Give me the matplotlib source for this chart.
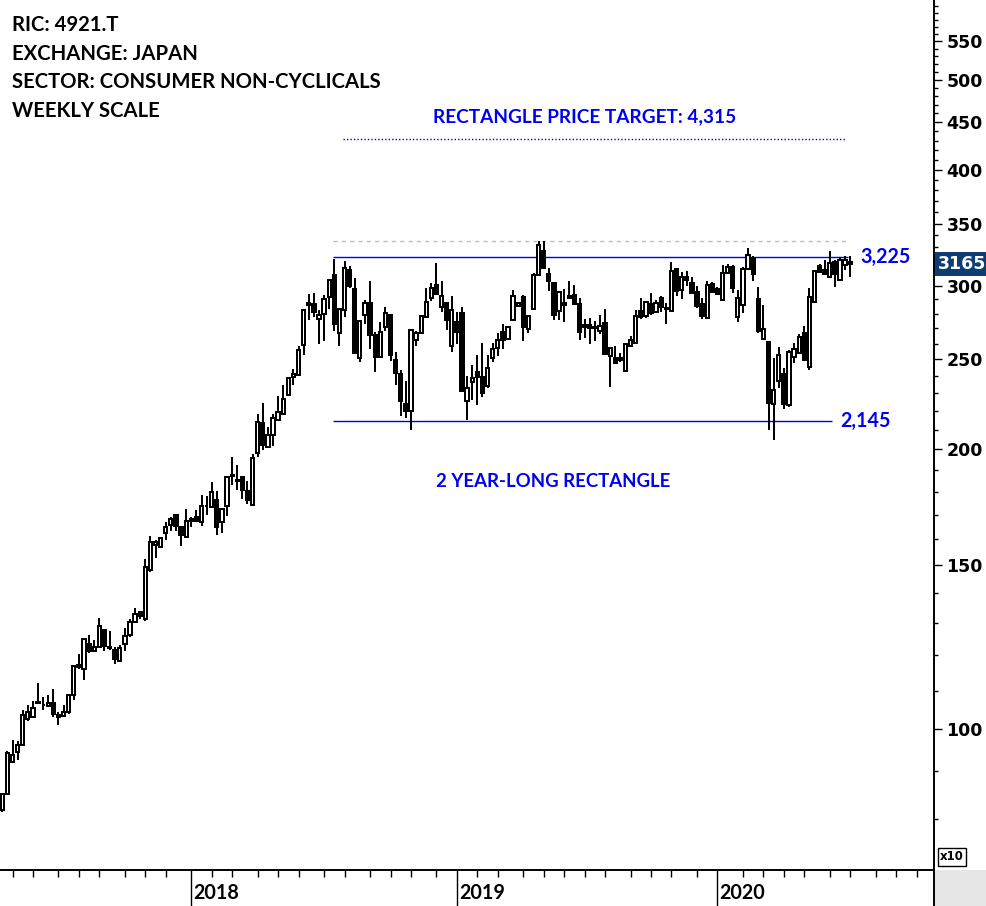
import matplotlib
matplotlib.use('Agg')
import matplotlib.pyplot as plt
import matplotlib.transforms as mtransforms
from matplotlib.patches import Rectangle
from matplotlib.lines import Line2D
from matplotlib.ticker import FixedLocator, NullFormatter
import numpy as np
import pandas as pd

# weekly candles, prices shown in units of x10 (as on the chart axis)
opens = [81.8, 85.1, 92.2, 94.5, 96.1, 102.5, 103.0, 107.0, 106.1, 105.9,
         106.7, 103.5, 103.3, 104.3, 108.8, 117.2, 116.0, 123.4, 121.3, 122.5,
         127.8, 122.5, 121.6, 118.3, 123.4, 126.2, 130.4, 133.6, 131.3, 148.3,
         157.8, 157.0, 162.6, 165.8, 170.0, 165.0, 160.9, 168.3, 169.1, 167.0,
         173.6, 173.4, 176.4, 167.0, 173.8, 187.0, 185.4, 186.8, 180.4, 174.3,
         198.2, 213.5, 201.2, 207.3, 215.1, 218.3, 228.9, 239.3, 240.5, 259.1,
         286.0, 286.7, 276.3, 279.8, 291.8, 308.1, 266.8, 282.5, 312.0, 297.6,
         250.8, 279.1, 287.4, 265.5, 251.5, 270.9, 279.1, 249.5, 241.1, 223.7,
         219.9, 262.3, 266.8, 277.7, 291.1, 300.9, 284.6, 287.4, 258.4, 274.2,
         280.4, 225.5, 236.4, 242.3, 239.3, 234.1, 250.8, 257.1, 267.5, 262.9,
         275.6, 285.3, 291.8, 269.5, 283.2, 308.1, 327.0, 308.8, 302.1, 281.8,
         286.0, 292.5, 293.2, 286.7, 270.9, 272.2, 270.9, 268.2, 273.6, 252.1,
         250.8, 249.5, 242.9, 258.4, 260.3, 281.8, 278.4, 286.7, 281.1, 291.1,
         283.9, 281.8, 312.8, 297.1, 306.6, 302.1, 295.6, 286.7, 277.0, 301.6,
         297.8, 289.6, 309.6, 314.3, 277.7, 286.0, 312.8, 321.4, 290.3, 262.9,
         260.9, 223.7, 237.0, 241.1, 223.2, 251.5, 254.0, 266.8, 245.4, 288.1,
         315.1, 312.0, 306.6, 318.2, 304.3, 315.8, 318.5]
highs = [85.4, 94.7, 97.3, 97.1, 104.8, 106.1, 107.2, 112.1, 108.3, 108.8,
         110.4, 104.3, 106.1, 109.1, 117.2, 120.4, 125.3, 126.2, 124.7, 131.6,
         128.1, 127.5, 122.5, 123.1, 128.4, 131.3, 135.0, 134.0, 152.4, 161.3,
         159.7, 160.9, 167.0, 169.1, 170.4, 165.4, 172.5, 169.1, 172.1, 178.6,
         178.1, 184.5, 180.4, 173.0, 187.2, 196.3, 192.4, 187.2, 185.0, 197.7,
         218.3, 224.3, 211.3, 218.3, 228.3, 234.7, 239.3, 244.1, 258.4, 283.2,
         293.9, 294.6, 282.5, 293.2, 305.1, 320.6, 283.9, 319.0, 315.1, 305.8,
         275.6, 289.6, 303.6, 267.5, 274.2, 284.6, 279.8, 254.6, 243.5, 237.0,
         269.5, 268.2, 279.1, 298.6, 302.1, 317.5, 303.6, 288.1, 292.5, 281.1,
         284.6, 239.9, 246.3, 252.7, 260.3, 252.7, 260.3, 266.8, 272.9, 271.5,
         297.1, 288.1, 293.2, 279.1, 309.6, 335.2, 335.2, 313.5, 302.9, 296.4,
         297.6, 303.6, 300.9, 291.1, 276.3, 277.0, 274.9, 279.1, 283.2, 257.8,
         258.4, 254.0, 260.3, 264.8, 282.5, 291.1, 288.8, 294.6, 289.6, 292.5,
         287.4, 318.2, 313.5, 310.4, 311.3, 306.6, 300.1, 291.1, 303.6, 302.9,
         299.4, 315.8, 316.6, 315.8, 297.1, 314.3, 329.4, 323.0, 299.4, 286.0,
         261.6, 250.8, 257.8, 244.7, 256.0, 260.3, 266.1, 271.5, 298.6, 312.0,
         316.6, 319.8, 327.0, 319.8, 322.2, 322.9, 322.9]
lows = [81.5, 84.9, 91.9, 92.6, 95.9, 102.0, 102.8, 106.5, 104.8, 105.6,
        103.0, 101.0, 103.0, 103.8, 107.5, 116.0, 112.9, 120.7, 121.0, 122.2,
        121.3, 121.6, 117.5, 118.0, 121.3, 125.6, 130.1, 131.3, 130.7, 147.5,
        152.8, 156.6, 159.7, 163.4, 163.4, 157.4, 160.5, 165.0, 167.0, 165.4,
        170.0, 173.0, 161.7, 162.6, 169.6, 183.1, 180.8, 176.8, 174.7, 173.8,
        196.3, 199.8, 200.7, 201.6, 214.6, 217.7, 228.3, 234.7, 239.9, 252.7,
        275.6, 277.7, 259.7, 261.6, 283.2, 268.2, 258.4, 277.7, 298.6, 253.4,
        248.3, 272.9, 256.5, 242.3, 250.8, 268.2, 248.9, 234.7, 217.2, 216.2,
        209.8, 258.4, 266.1, 277.0, 288.8, 293.2, 281.1, 268.8, 254.6, 259.7,
        230.6, 215.1, 226.0, 223.2, 227.7, 232.9, 248.3, 252.1, 256.5, 262.3,
        274.9, 284.6, 261.6, 266.8, 282.5, 307.3, 312.8, 296.4, 275.6, 275.6,
        274.2, 290.3, 286.0, 262.3, 263.5, 259.7, 261.6, 266.1, 252.7, 233.5,
        247.1, 248.3, 242.3, 257.8, 259.7, 276.3, 277.0, 279.1, 280.4, 281.1,
        272.9, 281.1, 292.5, 290.3, 300.1, 293.9, 283.9, 276.3, 276.3, 294.9,
        293.2, 288.8, 308.8, 294.9, 274.2, 280.4, 312.0, 303.6, 266.8, 262.3,
        209.8, 204.7, 232.9, 221.0, 222.1, 247.7, 253.4, 248.9, 243.5, 287.4,
        309.6, 308.1, 305.8, 299.4, 303.6, 312.0, 306.6]
closes = [85.1, 94.2, 93.8, 96.1, 103.5, 104.3, 105.3, 106.7, 106.2, 106.7,
          103.8, 103.0, 104.3, 108.8, 116.9, 116.6, 125.0, 121.3, 122.5, 129.1,
          122.8, 122.2, 118.9, 122.2, 125.9, 130.4, 133.0, 132.3, 149.4, 158.9,
          158.9, 160.5, 165.0, 168.3, 165.4, 161.7, 167.4, 167.4, 167.4, 173.8,
          173.8, 179.9, 165.0, 172.5, 186.8, 187.6, 185.0, 180.8, 176.4, 195.8,
          214.0, 202.2, 207.3, 216.2, 219.4, 226.6, 238.7, 241.1, 255.9, 282.5,
          287.4, 281.1, 279.1, 290.3, 304.3, 272.9, 283.2, 313.5, 300.1, 254.0,
          274.9, 287.4, 265.5, 251.5, 267.5, 280.4, 252.7, 241.7, 225.5, 219.9,
          268.8, 266.8, 278.4, 288.1, 298.6, 293.9, 292.5, 275.6, 282.5, 267.5,
          231.2, 232.9, 238.7, 239.3, 230.0, 244.7, 256.5, 262.3, 262.3, 270.9,
          292.5, 287.4, 270.9, 278.4, 308.1, 331.9, 313.5, 303.6, 279.1, 295.6,
          287.4, 291.1, 286.7, 267.5, 272.2, 270.2, 270.2, 271.5, 253.4, 257.1,
          247.7, 250.8, 259.7, 262.3, 278.4, 277.7, 288.1, 280.4, 287.4, 284.6,
          283.2, 311.3, 296.4, 306.6, 304.3, 294.6, 285.3, 278.4, 300.9, 295.6,
          293.9, 309.6, 314.3, 298.6, 291.1, 312.8, 323.8, 308.8, 268.2, 269.5,
          224.3, 231.7, 252.7, 223.7, 254.6, 256.5, 264.2, 249.5, 291.8, 311.3,
          310.4, 308.8, 317.5, 308.8, 319.8, 319.8, 316.5]

resistance = 322.5
support = 214.5
target = 431.5

y_major = [100, 150, 200, 250, 300, 350, 400, 450, 500, 550]
y_minor = list(range(80, 610, 10))

header = ["RIC: 4921.T", "EXCHANGE: JAPAN",
          "SECTOR: CONSUMER NON-CYCLICALS", "WEEKLY SCALE"]

# weekly bars (Friday), Golden Week 2019 had no trading
weeks = pd.date_range('2017-04-21', periods=200, freq='W-FRI')
weeks = weeks[weeks != pd.Timestamp('2019-05-03')]

BLUE = '#0000f0'

opens = np.array(opens)
closes = np.array(closes)
n = len(closes)
x = np.arange(n)

fig = plt.figure(figsize=(9.86, 9.06), dpi=100)
ax = fig.add_axes([0, 36 / 906, 934 / 986, 870 / 906])
ax.set_yscale('log')
ax.set_ylim(70.5, 609.3)
ax.set_xlim(-0.45, 182.4)

# candles
ax.vlines(x, lows, highs, color='black', lw=1.3, zorder=2, antialiased=False)
bottom = np.minimum(opens, closes)
height = np.maximum(np.abs(closes - opens), 0.15)
colors = ['white' if c >= o else 'black' for o, c in zip(opens, closes)]
ax.bar(x, height, bottom=bottom, width=0.64, color=colors,
       edgecolor='black', linewidth=1.2, zorder=3, antialiased=False)

# rectangle lines
x0, x1 = 64.7, 165.6
ax.hlines(max(highs), x0, x1, colors='#bdbdbd', linestyles=(0, (3, 3)), lw=1.0, zorder=1)
ax.hlines(resistance, x0, x1, colors=BLUE, lw=1.0, zorder=1)
ax.hlines(support, x0, 162.5, colors=BLUE, lw=1.0, zorder=1)
ax.hlines(target, 66.7, 165.0, colors=BLUE, linestyles=(0, (1, 1.5)), lw=1.0, zorder=1)

tf = dict(family=['Lato', 'DejaVu Sans'], fontweight='bold')
ax.text(167.9, resistance, f'{resistance * 10:,.0f}', color=BLUE, fontsize=14.2,
        ha='left', va='center', **tf)
ax.text(164.0, support, f'{support * 10:,.0f}', color=BLUE, fontsize=14.2,
        ha='left', va='center', **tf)
ax.text(0.626, 0.8655, f'RECTANGLE PRICE TARGET: {target * 10:,.0f}', color=BLUE,
        fontsize=13.7, ha='center', va='center', transform=ax.transAxes, **tf)
ax.text(0.592, 0.446, '2 YEAR-LONG RECTANGLE', color=BLUE,
        fontsize=13.4, ha='center', va='center', transform=ax.transAxes, **tf)
for i, line in enumerate(header):
    ax.text(0.0128, 0.9718 - i * 0.0333, line, color='black', fontsize=14.6,
            ha='left', va='center', transform=ax.transAxes, **tf)

# axes styling
for s in ['left', 'top']:
    ax.spines[s].set_visible(False)
ax.spines['right'].set_linewidth(1.4)
ax.spines['bottom'].set_linewidth(1.4)

ax.yaxis.tick_right()
ax.yaxis.set_major_locator(FixedLocator(y_major))
ax.set_yticklabels([str(v) for v in y_major])
ax.yaxis.set_minor_locator(FixedLocator(y_minor))
ax.yaxis.set_minor_formatter(NullFormatter())
ax.tick_params(axis='y', which='major', length=6, width=1.0, pad=3, labelsize=12.5)
ax.tick_params(axis='y', which='minor', length=3, width=1.0)
for lbl in ax.get_yticklabels():
    lbl.set_fontweight('bold')

month_idx = [i for i in range(1, len(weeks)) if weeks[i].month != weeks[i - 1].month]
year_idx = [i for i in range(1, len(weeks)) if weeks[i].year != weeks[i - 1].year]
ax.set_xticks([i for i in year_idx if i < 182])
ax.set_xticklabels([])
ax.set_xticks([i for i in month_idx if i < 182], minor=True)
ax.tick_params(axis='x', which='major', length=26, width=1.0)
ax.tick_params(axis='x', which='minor', length=5, width=1.0)
for i in year_idx:
    if i < 182:
        ax.text(i + 0.4, -0.027, str(weeks[i].year), transform=ax.get_xaxis_transform(),
                ha='left', va='center', fontsize=14.2, **tf)

# last price box
trans = mtransforms.blended_transform_factory(ax.transAxes, ax.transData)
ax.text(1.004, closes[-1], f'{closes[-1] * 10:.0f}', transform=trans, color='white',
        fontsize=12.5, fontweight='bold', ha='left', va='center', clip_on=False,
        bbox=dict(boxstyle='square,pad=0.18', fc='#0e3d74', ec='none'), zorder=5)

# bottom-right corner
fig.add_artist(Rectangle((934 / 986, 0), 52 / 986, 36 / 906, transform=fig.transFigure,
                         fc='#e6e6e6', ec='none'))
fig.add_artist(Line2D([934 / 986, 934 / 986], [0, 36 / 906], transform=fig.transFigure,
                      color='black', lw=1.4))
fig.text(940 / 986, 1 - 857 / 906, 'x10', fontsize=8.5, fontweight='bold', ha='left',
         va='center', bbox=dict(boxstyle='square,pad=0.2', fc='white', ec='black', lw=1))

fig.savefig('out.png', dpi=100)
